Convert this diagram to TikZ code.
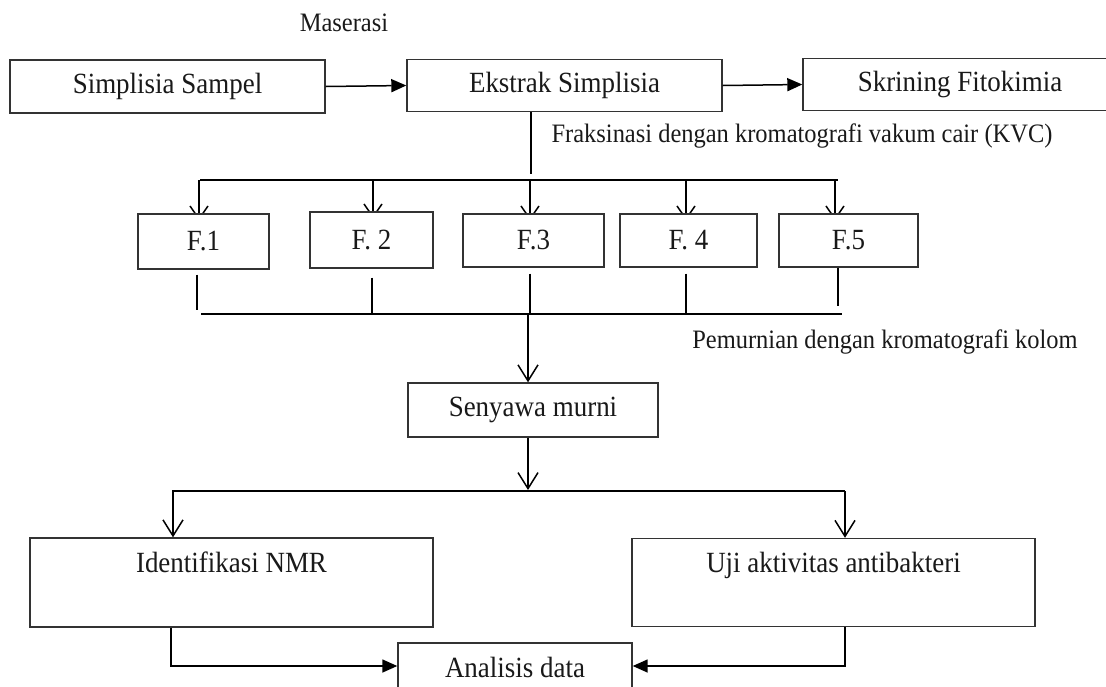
\documentclass[tikz,border=0pt]{standalone}
\usepackage{fontspec}
\setmainfont{Liberation Serif}[FakeStretch=0.92]
\usetikzlibrary{arrows.meta}
\pgfdeclarelayer{bg}
\pgfsetlayers{bg,main}
\tikzset{
  box/.style={draw=black!80, line width=1.4pt, fill=white, inner sep=0pt,
    font=\fontsize{29.3}{34}\selectfont, text=black!90},
  lbl/.style={inner sep=0pt, font=\fontsize{26.6}{31}\selectfont, text=black!90},
  conn/.style={line width=1.5pt},
  bar/.style={line width=2.6pt},
  tri/.style={conn, -{Triangle[length=15pt,width=13pt]}},
  vee/.style={conn, -{Straight Barb[length=16pt,width=20pt,line width=1.5pt]}},
  fvee/.style={conn, -{Straight Barb[length=13pt,width=18pt,line width=1.5pt]}},
}
\begin{document}
\begin{tikzpicture}[x=1pt,y=-1pt]
\useasboundingbox (0,0) rectangle (1106,686);
\clip (0,0) rectangle (1106,686);

% top row
\node[box, minimum width=315pt, minimum height=53pt] (ss) at (167.5,86.5) {Simplisia Sampel};
\node[box, minimum width=315pt, minimum height=52pt] (ek) at (564.5,85.5) {Ekstrak Simplisia};
\node[box, minimum width=314pt, minimum height=52pt] (sf) at (960,84.5) {Skrining Fitokimia};
\node[lbl] (mas) at (344,23) {Maserasi};
\node[lbl] (frk) at (802,136) {Fraksinasi dengan kromatografi vakum cair (KVC)};

\draw[tri] (ss.east) -- (ek.west);
\draw[tri] (ek.east) -- (sf.west);

% fractions
\node[box, minimum width=131pt, minimum height=55pt] (f1) at (203.5,241.5) {F.1};
\node[box, minimum width=123pt, minimum height=56pt] (f2) at (371.5,240) {F. 2};
\node[box, minimum width=141pt, minimum height=53pt] (f3) at (533.5,240.5) {F.3};
\node[box, minimum width=137pt, minimum height=53pt] (f4) at (688.5,240.5) {F. 4};
\node[box, minimum width=139pt, minimum height=53pt] (f5) at (848.5,240.5) {F.5};

\coordinate (ekd) at (531,174);
\draw[conn] (ek.south -| ekd) -- (ekd);
\draw[bar] (200,180) -- (838,180);
\coordinate (b1) at (199,180);
\coordinate (b2) at (373,180);
\coordinate (b3) at (530,180);
\coordinate (b4) at (686,180);
\coordinate (b5) at (835,180);
\begin{pgfonlayer}{bg}
\draw[fvee] (b1) -- ([yshift=-7pt]f1.north -| b1);
\draw[fvee] (b2) -- ([yshift=-7pt]f2.north -| b2);
\draw[fvee] (b3) -- ([yshift=-7pt]f3.north -| b3);
\draw[fvee] (b4) -- ([yshift=-7pt]f4.north -| b4);
\draw[fvee] (b5) -- ([yshift=-7pt]f5.north -| b5);
\end{pgfonlayer}

% stubs and lower bar
\coordinate (s1) at (197,310);
\coordinate (s2) at (372,314);
\coordinate (s3) at (530,314);
\coordinate (s4) at (686,314);
\coordinate (s5) at (838,306);
\draw[bar] ([yshift=-5pt]f1.south -| s1) -- (s1);
\draw[bar] ([yshift=-9pt]f2.south -| s2) -- (s2);
\draw[bar] ([yshift=-6pt]f3.south -| s3) -- (s3);
\draw[bar] ([yshift=-6pt]f4.south -| s4) -- (s4);
\draw[bar] (f5.south -| s5) -- (s5);
\draw[bar] (201,314) -- (842,314);
\node[lbl] (pem) at (885,342) {Pemurnian dengan kromatografi kolom};

% pure compound
\node[box, minimum width=250pt, minimum height=54pt] (sm) at (533,410) {Senyawa murni};
\coordinate (m1) at (528,314);
\draw[vee] (m1) -- (sm.north -| m1);
\coordinate (m2) at (528,490);
\draw[vee] (sm.south -| m2) -- (m2);
\draw[bar] (172,491) -- (845,491);
\coordinate (l2) at (173,491);
\coordinate (r2) at (845,491);

% analyses
\node[box, minimum width=403pt, text height=34pt, text depth=55pt] (id) at (231.5,582.5) {Identifikasi NMR};
\node[box, minimum width=403pt, text height=34pt, text depth=54pt] (uj) at (833.5,582.5) {Uji aktivitas antibakteri};
\draw[vee] (l2) -- (id.north -| l2);
\draw[vee] (r2) -- (uj.north -| r2);

\node[box, minimum width=234pt, text height=34pt, text depth=23pt] (an) at (515,671.5) {Analisis data};
\coordinate (l3) at (171,666);
\coordinate (r3) at (845,666);
\draw[tri] (id.south -| l3) -- (l3) -- (an.west |- l3);
\draw[tri] (uj.south -| r3) -- (r3) -- (an.east |- r3);
\end{tikzpicture}
\end{document}
